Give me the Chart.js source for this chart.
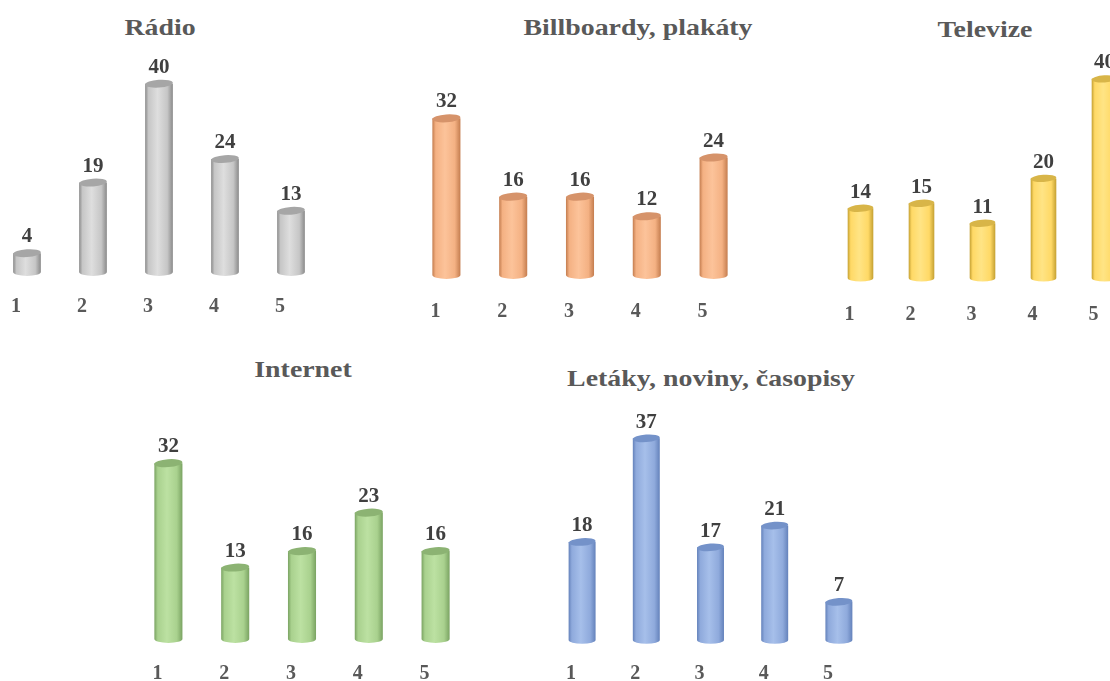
<!DOCTYPE html>
<html>
<head>
<meta charset="utf-8">
<script src="https://cdn.jsdelivr.net/npm/chart.js@4.4.1/dist/chart.umd.min.js"></script>
<style>
  html, body { margin:0; padding:0; width:1110px; height:681px; overflow:hidden; background:#ffffff; }
  .ttl { position:absolute; white-space:nowrap; font-family:"Liberation Serif", "Times New Roman", serif; font-weight:bold; font-size:24px; color:#595959; line-height:1; }
  canvas { position:absolute; }
</style>
</head>
<body>
<script>
// ---- data ----
const categories = ['1', '2', '3', '4', '5'];
const radio = [4, 19, 40, 24, 13];
const billboardy = [32, 16, 16, 12, 24];
const televize = [14, 15, 11, 20, 40];
const internet = [32, 13, 16, 23, 16];
const letaky = [18, 37, 17, 21, 7];
const titles = ['Rádio', 'Billboardy, plakáty', 'Televize', 'Internet', 'Letáky, noviny, časopisy'];
const seriesList = [radio, billboardy, televize, internet, letaky];

// ---- styles / layout ----
const palettes = [
  { dark:'#8a8a8a', light:'#dedede', mid:'#c6c6c6', top:'#a6a6a6' },
  { dark:'#c47d4f', light:'#fcc39a', mid:'#f4b183', top:'#d6936a' },
  { dark:'#c4a032', light:'#ffe485', mid:'#ffd966', top:'#d8b548' },
  { dark:'#7aa362', light:'#bce1a2', mid:'#a9d18e', top:'#8cb373' },
  { dark:'#6482bb', light:'#a6bfea', mid:'#8faadc', top:'#7492c9' }
];
const layouts = [
  { left:-6,  width:330, base:272, ppu:4.7,  tx:160, ty:27,  pad:23 },
  { left:413, width:334, base:275, ppu:4.9,  tx:638, ty:27,  pad:25 },
  { left:830, width:305, base:278, ppu:4.98, tx:985, ty:29,  pad:25 },
  { left:135, width:334, base:639, ppu:5.5,  tx:303, ty:369, pad:23 },
  { left:550, width:321, base:640, ppu:5.46, tx:711, ty:378, pad:22 }
];
const PAD_TOP = 40;

const cylinderPlugin = {
  id: 'cylinders',
  afterDatasetsDraw(chart, args, pal) {
    const ctx = chart.ctx;
    const meta = chart.getDatasetMeta(0);
    const vals = chart.data.datasets[0].data;
    meta.data.forEach((bar, i) => {
      const p = bar.getProps(['x', 'y', 'base', 'width'], true);
      const x = p.x, y = p.y, base = p.base, w = p.width;
      const rx = w / 2, ry = w * 0.14, rot = -0.07;
      const g = ctx.createLinearGradient(x - rx, 0, x + rx, 0);
      g.addColorStop(0, pal.dark);
      g.addColorStop(0.12, pal.mid);
      g.addColorStop(0.45, pal.light);
      g.addColorStop(0.8, pal.mid);
      g.addColorStop(1, pal.dark);
      ctx.save();
      ctx.beginPath();
      ctx.moveTo(x - rx, y);
      ctx.lineTo(x - rx, base);
      ctx.ellipse(x, base, rx, ry, 0, Math.PI, 0, true);
      ctx.lineTo(x + rx, y);
      ctx.closePath();
      ctx.fillStyle = g;
      ctx.fill();
      ctx.beginPath();
      ctx.ellipse(x, y, rx, ry, rot, 0, Math.PI * 2);
      ctx.fillStyle = pal.top;
      ctx.fill();
      ctx.fillStyle = '#404040';
      ctx.font = 'bold 21px "Liberation Serif", "Times New Roman", serif';
      ctx.textAlign = 'center';
      ctx.textBaseline = 'alphabetic';
      ctx.fillText(String(vals[i]), x, y - ry - 7);
      ctx.restore();
    });
  }
};

seriesList.forEach((vals, k) => {
  const L = layouts[k];
  const yMax = Math.max(...vals) * 1.2;
  const areaTop = L.base - yMax * L.ppu;
  const cTop = areaTop - PAD_TOP;
  const xAxisH = 24 + 2 * L.pad;
  const cHeight = L.base + xAxisH - cTop;

  const t = document.createElement('div');
  t.className = 'ttl';
  t.textContent = titles[k];
  t.style.left = L.tx + 'px';
  t.style.top = L.ty + 'px';
  t.style.transform = 'translate(-50%, -50%) scaleX(1.16)';
  document.body.appendChild(t);

  const c = document.createElement('canvas');
  c.width = Math.round(L.width);
  c.height = Math.round(cHeight);
  c.style.left = L.left + 'px';
  c.style.top = cTop + 'px';
  c.style.width = c.width + 'px';
  c.style.height = c.height + 'px';
  document.body.appendChild(c);

  new Chart(c.getContext('2d'), {
    type: 'bar',
    data: {
      labels: categories,
      datasets: [{
        data: vals,
        backgroundColor: 'rgba(0,0,0,0)',
        borderWidth: 0,
        barPercentage: 0.42,
        categoryPercentage: 1
      }]
    },
    options: {
      responsive: false,
      animation: false,
      devicePixelRatio: 1,
      layout: { padding: { top: PAD_TOP, left: 0, right: 0, bottom: 0 } },
      plugins: {
        legend: { display: false },
        tooltip: { enabled: false },
        title: { display: false },
        cylinders: palettes[k]
      },
      scales: {
        x: {
          grid: { display: false, drawTicks: false },
          border: { display: false },
          ticks: {
            color: '#595959',
            padding: L.pad,
            labelOffset: -11,
            font: { family: '"Liberation Serif", "Times New Roman", serif', size: 20, weight: 'bold' }
          }
        },
        y: { display: false, min: 0, max: yMax }
      }
    },
    plugins: [cylinderPlugin]
  });
});
</script>
</body>
</html>
